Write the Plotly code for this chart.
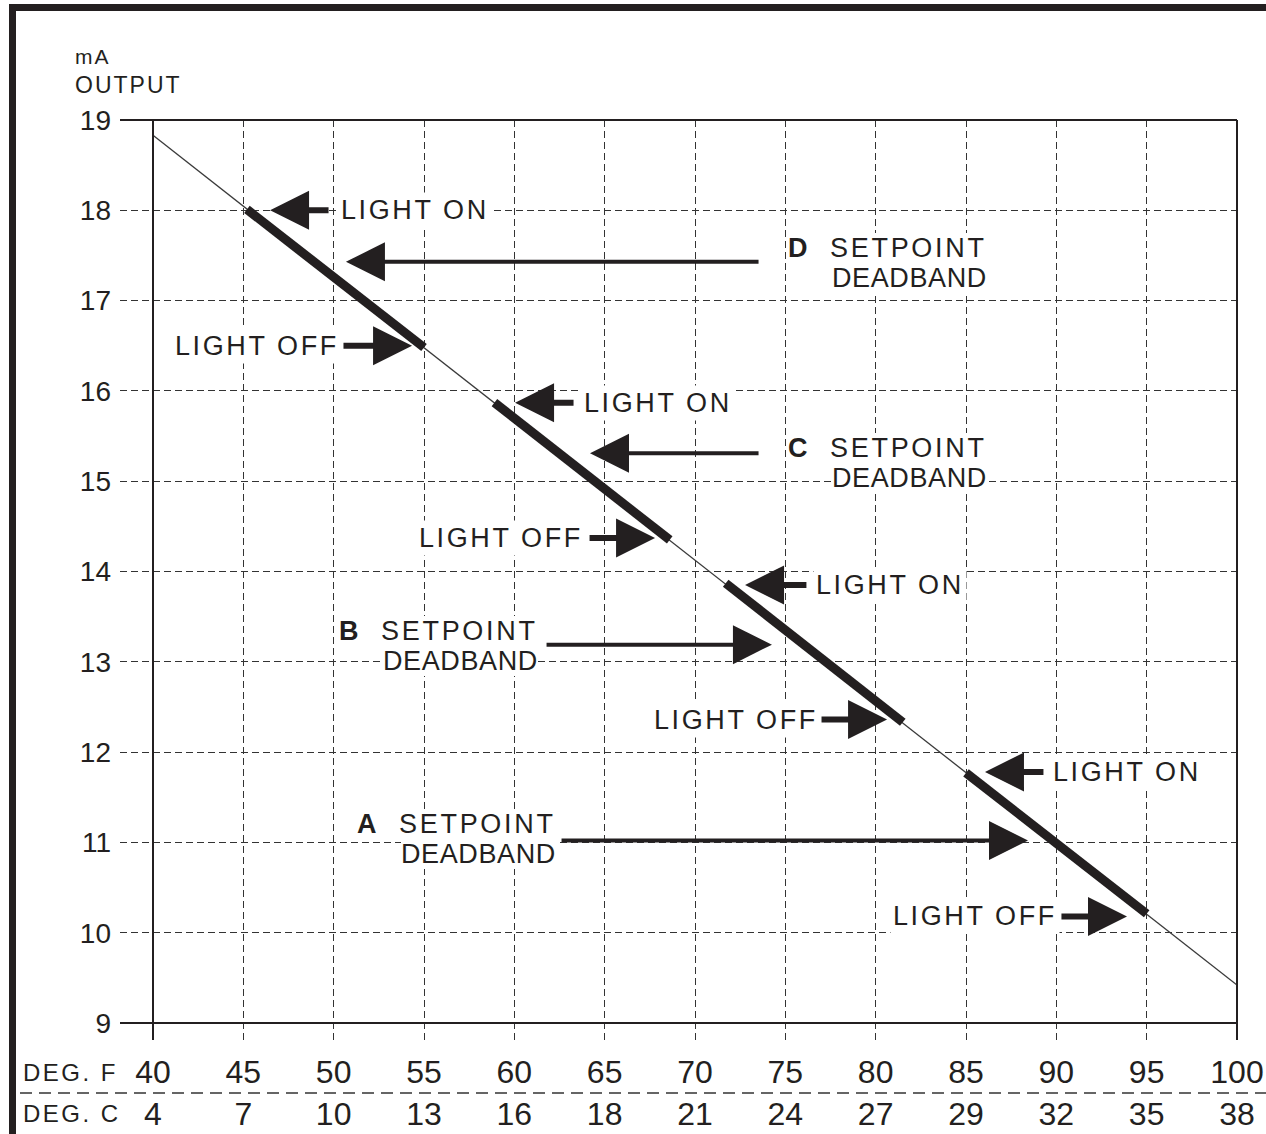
import plotly.graph_objects as go

# ---------------- data ----------------
deg_f = [40, 45, 50, 55, 60, 65, 70, 75, 80, 85, 90, 95, 100]
deg_c = [4, 7, 10, 13, 16, 18, 21, 24, 27, 29, 32, 35, 38]
ma_ticks = [9, 10, 11, 12, 13, 14, 15, 16, 17, 18, 19]

line_f = [40, 100]
line_ma = [18.83, 9.42]

band_names = ["D", "C", "B", "A"]
band_on_f = [45.2, 58.9, 71.7, 85.0]
band_on_ma = [18.01, 15.87, 13.87, 11.77]
band_off_f = [55.0, 68.6, 81.5, 95.0]
band_off_ma = [16.48, 14.35, 12.33, 10.21]

# ---------------- layout of labels (data units) ----------------
# LIGHT ON: text left x, y, arrow tip x, arrow tail x
on_layout = [(50.24, 18.00, 46.48, 49.80), (63.69, 15.87, 60.04, 63.36),
             (76.53, 13.85, 72.77, 76.25), (89.65, 11.78, 86.05, 89.37)]
# LIGHT OFF: text right x, y, arrow tail x, arrow tip x
off_layout = [(50.45, 16.50, 50.46, 54.34), (63.96, 14.37, 64.08, 67.79),
              (76.96, 12.36, 76.92, 80.63), (90.19, 10.18, 90.20, 93.91)]
# SETPOINT: text right x, boundary y between the two lines, arrow tail x, arrow tip x, arrow y
sp_layout = [(86.15, 17.411, 73.60, 50.68, 17.43),
             (86.15, 15.202, 73.60, 64.19, 15.31),
             (61.30, 13.175, 61.70, 74.26, 13.19),
             (62.30, 11.038, 62.53, 88.43, 11.02)]

INK = "#231f20"
FONT = "Liberation Sans, Arial, sans-serif"


def tracked(s, sp):
    return '<span style="letter-spacing:%.1fpx">%s</span>' % (sp, s)


fig = go.Figure()

fig.add_trace(go.Scatter(x=line_f, y=line_ma, mode="lines",
                         line=dict(color="#3a3a3a", width=1.3),
                         hoverinfo="skip", showlegend=False))
for i, n in enumerate(band_names):
    fig.add_trace(go.Scatter(x=[band_on_f[i], band_off_f[i]],
                             y=[band_on_ma[i], band_off_ma[i]],
                             mode="lines", name=n,
                             line=dict(color=INK, width=9),
                             showlegend=False))

ann = []
lab_font = dict(family=FONT, size=27, color=INK)
for i, n in enumerate(band_names):
    tx, ty, tip, tail = on_layout[i]
    ann.append(dict(x=tx, y=ty, xref="x", yref="y", text=tracked("LIGHT ON", 2.6),
                    showarrow=False, xanchor="left", yanchor="middle",
                    font=lab_font, bgcolor="white", borderpad=2))
    tx, ty, tail2, tip2 = off_layout[i]
    ann.append(dict(x=tx, y=ty, xref="x", yref="y", text=tracked("LIGHT OFF", 2.6),
                    showarrow=False, xanchor="right", yanchor="middle",
                    font=lab_font, bgcolor="white", borderpad=2))
    rx, ymid, atail, atip, ay = sp_layout[i]
    ann.append(dict(x=rx, y=ymid, xref="x", yref="y",
                    text="<b>%s</b>\u00a0\u00a0\u00a0%s" % (n, tracked("SETPOINT", 2.7)),
                    showarrow=False, xanchor="right", yanchor="bottom",
                    font=lab_font, bgcolor="white", borderpad=0, borderwidth=0))
    ann.append(dict(x=rx, y=ymid, xref="x", yref="y", text=tracked("DEADBAND", 0.6),
                    showarrow=False, xanchor="right", yanchor="top",
                    font=lab_font, bgcolor="white", borderpad=0, borderwidth=0))

for i, n in enumerate(band_names):
    tx, ty, tip, tail = on_layout[i]
    ann.append(dict(x=tip, y=ty, ax=tail, ay=ty, xref="x", yref="y", axref="x", ayref="y",
                    text="", showarrow=True, arrowhead=2, arrowwidth=6, arrowsize=1.3,
                    arrowcolor=INK, standoff=0))
    tx, ty, tail2, tip2 = off_layout[i]
    ann.append(dict(x=tip2, y=ty, ax=tail2, ay=ty, xref="x", yref="y", axref="x", ayref="y",
                    text="", showarrow=True, arrowhead=2, arrowwidth=6, arrowsize=1.3,
                    arrowcolor=INK, standoff=0))
    rx, ymid, atail, atip, ay = sp_layout[i]
    ann.append(dict(x=atip, y=ay, ax=atail, ay=ay, xref="x", yref="y", axref="x", ayref="y",
                    text="", showarrow=True, arrowhead=2, arrowwidth=4, arrowsize=1.95,
                    arrowcolor=INK, standoff=0))

# plot area geometry (pixels) and pixel -> paper helpers
L, R, T, B = 120, 1237, 120, 1040
W, H = 1266, 1134


def px(xp):
    return (xp - L) / (R - L)


def py(yp):
    return (B - yp) / (B - T)


ann += [
    dict(x=px(73), y=py(70), xref="paper", yref="paper", text=tracked("mA", 2),
         showarrow=False, xanchor="left", yanchor="bottom",
         font=dict(family=FONT, size=21, color=INK)),
    dict(x=px(73), y=py(70), xref="paper", yref="paper", text=tracked("OUTPUT", 2),
         showarrow=False, xanchor="left", yanchor="top",
         font=dict(family=FONT, size=23, color=INK)),
    dict(x=px(21), y=py(1072), xref="paper", yref="paper", text=tracked("DEG. F", 2.5),
         showarrow=False, xanchor="left", yanchor="middle",
         font=dict(family=FONT, size=24, color=INK)),
    dict(x=px(21), y=py(1113), xref="paper", yref="paper", text=tracked("DEG. C", 2.5),
         showarrow=False, xanchor="left", yanchor="middle",
         font=dict(family=FONT, size=24, color=INK)),
]

shapes = [
    # axis frame lines
    dict(type="line", xref="x domain", yref="y domain", x0=0, x1=1, y0=1, y1=1,
         line=dict(color=INK, width=2)),
    dict(type="line", xref="x domain", yref="y domain", x0=1, x1=1, y0=0, y1=1,
         line=dict(color=INK, width=2)),
    dict(type="line", xref="x", yref="y domain", x0=deg_f[0], x1=deg_f[0], y0=0, y1=1,
         line=dict(color=INK, width=2)),
    dict(type="line", xref="x domain", yref="y", x0=0, x1=1, y0=ma_ticks[0], y1=ma_ticks[0],
         line=dict(color=INK, width=2)),
    # separator between deg F and deg C rows
    dict(type="line", xref="paper", yref="paper", x0=px(20), x1=px(1280), y0=py(1093), y1=py(1093),
         line=dict(color="#333333", width=1.6, dash="12px,7px")),
    # outer frame (left + top)
    dict(type="line", xref="paper", yref="paper", x0=px(12.5), x1=px(12.5), y0=py(4), y1=py(1140),
         line=dict(color=INK, width=7)),
    dict(type="line", xref="paper", yref="paper", x0=px(9), x1=px(1280), y0=py(7.5), y1=py(7.5),
         line=dict(color=INK, width=7)),
]

x_lo = deg_f[0] - (153 - L) / ((R - 153) / (deg_f[-1] - deg_f[0]))
y_lo = ma_ticks[0] - (B - 1023) / ((1023 - T) / (ma_ticks[-1] - ma_ticks[0]))

fig.update_layout(
    width=W, height=H, autosize=False,
    margin=dict(l=L, r=W - R, t=T, b=H - B, pad=0, autoexpand=False),
    paper_bgcolor="white", plot_bgcolor="white",
    showlegend=False,
    annotations=ann, shapes=shapes,
    font=dict(family=FONT, color=INK),
    xaxis=dict(range=[x_lo, deg_f[-1]], tickmode="array", tickvals=deg_f,
               ticktext=["%d<br>%d" % (f, c) for f, c in zip(deg_f, deg_c)],
               tickfont=dict(family=FONT, size=32, color=INK), automargin=False,
               showgrid=True, gridcolor="#333333", gridwidth=1.3, griddash="7px,4px",
               zeroline=False, showline=False, ticks="", ticklabelstandoff=10),
    yaxis=dict(range=[y_lo, ma_ticks[-1]], tickmode="array", tickvals=ma_ticks,
               tickfont=dict(family=FONT, size=28, color=INK), automargin=False,
               showgrid=True, gridcolor="#333333", gridwidth=1.3, griddash="7px,4px",
               zeroline=False, showline=False, ticks="", ticklabelstandoff=8),
)

fig.write_html("out.html", config={"displayModeBar": False},
               post_script="document.body.style.margin='0';document.body.style.overflow='hidden';")
